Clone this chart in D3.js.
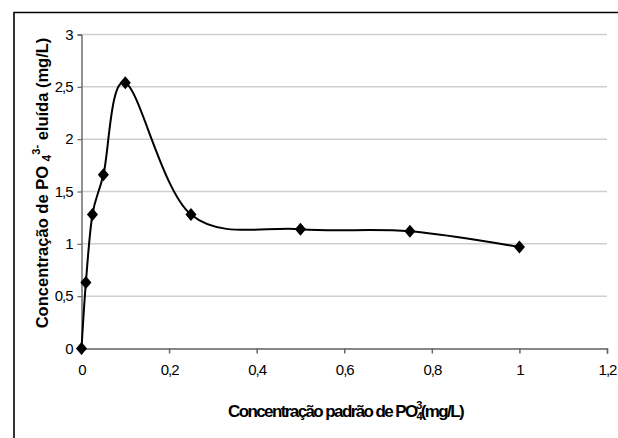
<!DOCTYPE html>
<html>
<head>
<meta charset="utf-8">
<script src="https://cdn.jsdelivr.net/npm/d3@7"></script>
<style>
  html, body { margin: 0; padding: 0; background: #fff; }
  svg { display: block; font-family: Arial, "Liberation Sans", sans-serif; }
</style>
</head>
<body>
<svg id="chart" width="618" height="438"></svg>
<script>
// Standard phosphate concentration (mg/L) and eluted phosphate (mg/L)
const padrao = [0, 0.01, 0.025, 0.05, 0.1, 0.25, 0.5, 0.75, 1.0];
const eluida = [0, 0.63, 1.28, 1.66, 2.54, 1.28, 1.14, 1.12, 0.97];
const xTicks = [0, 0.2, 0.4, 0.6, 0.8, 1, 1.2];
const yTicks = [0, 0.5, 1, 1.5, 2, 2.5, 3];

const svg = d3.select("#chart");
const W = 618, H = 438;
const plot = { left: 81.5, right: 607, top: 34.5, bottom: 348.5 };

const x = d3.scaleLinear().domain([0, 1.2]).range([plot.left, plot.right]);
const y = d3.scaleLinear().domain([0, 3]).range([plot.bottom, plot.top]);
const fmt = v => String(v).replace(".", ",");

// Chart-area frame (top and left edges)
svg.append("path")
  .attr("d", `M14,${H} L14,12.5 L${W},12.5`)
  .attr("fill", "none").attr("stroke", "#000").attr("stroke-width", 1.6);

// Horizontal gridlines
svg.append("g").selectAll("line")
  .data(yTicks.filter(d => d > 0))
  .join("line")
  .attr("x1", plot.left).attr("x2", plot.right)
  .attr("y1", d => y(d)).attr("y2", d => y(d))
  .attr("stroke", "#cfcfcf").attr("stroke-width", 1.5);

// Y axis
const yAxis = svg.append("g")
  .attr("transform", `translate(${plot.left},0)`)
  .call(d3.axisLeft(y).tickValues(yTicks).tickFormat(fmt).tickSize(4).tickPadding(5));
yAxis.select(".domain").attr("stroke", "#222").attr("stroke-width", 1);
yAxis.selectAll(".tick line").attr("stroke", "#666").attr("stroke-width", 1.2);
yAxis.selectAll(".tick text")
  .attr("font-size", 15).attr("fill", "#000")
  .attr("font-family", "Arial, 'Liberation Sans', sans-serif")
  .attr("letter-spacing", -1);

// X axis
const xAxis = svg.append("g")
  .attr("transform", `translate(0,${plot.bottom})`)
  .call(d3.axisBottom(x).tickValues(xTicks).tickFormat(fmt).tickSize(5).tickPadding(11));
xAxis.select(".domain").attr("stroke", "#111").attr("stroke-width", 1.2);
xAxis.selectAll(".tick line").attr("stroke", "#666").attr("stroke-width", 1.5);
xAxis.selectAll(".tick text")
  .attr("font-size", 15).attr("fill", "#000")
  .attr("font-family", "Arial, 'Liberation Sans', sans-serif")
  .attr("letter-spacing", -1);

// Smoothed data line
const pts = padrao.map((v, i) => [v, eluida[i]]);
const line = d3.line()
  .x(d => x(d[0])).y(d => y(d[1]))
  .curve(d3.curveCatmullRom.alpha(0));
svg.append("path")
  .datum(pts)
  .attr("d", line)
  .attr("fill", "none").attr("stroke", "#000").attr("stroke-width", 2);

// Diamond markers (wider than d3's built-in diamond)
const wideDiamond = {
  draw(ctx, size) {
    const h = Math.sqrt(size) * 0.55, w = h * 0.85;
    ctx.moveTo(0, -h); ctx.lineTo(w, 0); ctx.lineTo(0, h); ctx.lineTo(-w, 0); ctx.closePath();
  }
};
svg.append("g").selectAll("path")
  .data(pts)
  .join("path")
  .attr("transform", d => `translate(${x(d[0])},${y(d[1])})`)
  .attr("d", d3.symbol().type(wideDiamond).size(140))
  .attr("fill", "#000");

// Y axis title
const yt = svg.append("text")
  .attr("transform", `translate(48,183) rotate(-90)`)
  .attr("text-anchor", "middle")
  .attr("font-size", 16.5).attr("font-weight", "bold").attr("fill", "#000");
yt.append("tspan").text("Concentração de PO ");
yt.append("tspan").attr("font-size", 12).attr("dy", 3).text("4");
yt.append("tspan").attr("font-size", 11).attr("dy", -11).text("3-");
yt.append("tspan").attr("dy", 8).text(" eluída (mg/L)");

// X axis title
const xt = svg.append("text")
  .attr("x", 345.5).attr("y", 417)
  .attr("text-anchor", "middle")
  .attr("font-size", 17).attr("font-weight", "bold").attr("fill", "#000")
  .attr("letter-spacing", -1.6);
xt.append("tspan").text("Concentração padrão de PO");
xt.append("tspan").attr("font-size", 11).attr("dy", 3).text("4");
xt.append("tspan").attr("font-size", 11).attr("dy", -11).attr("dx", -5).text("3");
xt.append("tspan").attr("dy", 8).text("(mg/L)");
</script>
</body>
</html>
